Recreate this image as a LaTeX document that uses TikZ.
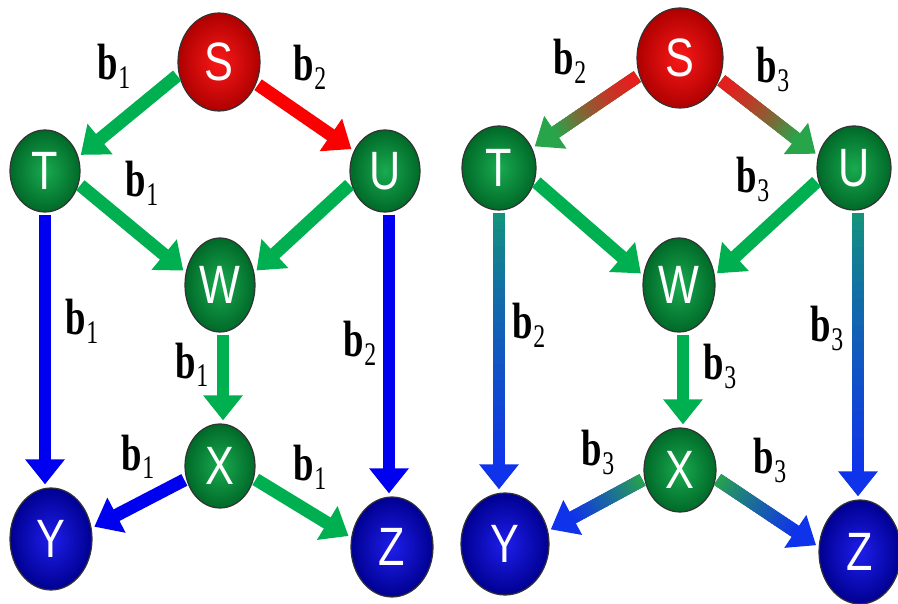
\documentclass[tikz,border=0pt]{standalone}
\usepackage{fontspec}
\usepackage{graphicx}
\setmainfont{Liberation Serif}
\newfontfamily\ballfont{Liberation Sans}
\usetikzlibrary{shapes.geometric,arrows.meta,calc}
\definecolor{agreen}{RGB}{0,176,80}
\definecolor{ared}{RGB}{250,0,0}
\definecolor{ablue}{RGB}{0,0,240}
\definecolor{gred}{RGB}{230,30,30}
\definecolor{ggreen}{RGB}{40,165,75}
\definecolor{gteal}{RGB}{20,150,120}
\definecolor{gblue}{RGB}{15,50,235}
\definecolor{ngin}{RGB}{25,170,80}
\definecolor{ngout}{RGB}{0,105,40}
\definecolor{nrin}{RGB}{250,25,25}
\definecolor{nrout}{RGB}{175,0,0}
\definecolor{nbin}{RGB}{30,30,235}
\definecolor{nbout}{RGB}{0,0,145}
\tikzset{
  ball/.style={ellipse, inner sep=0pt, draw=black!80, line width=1.2pt, text=white,
    font=\ballfont\fontsize{54}{54}\selectfont},
  gnode/.style={ball, inner color=ngin, outer color=ngout},
  rnode/.style={ball, inner color=nrin, outer color=nrout},
  bnode/.style={ball, inner color=nbin, outer color=nbout},
  arr/.style={line width=13pt, -{Triangle[length=25pt,width=38pt]}, shorten <=2pt, shorten >=3pt},
  vline/.style={arr, line width=12pt},
  lab/.style={anchor=base west, inner sep=0pt, text=black}
}
\newcommand\ballt[1]{\scalebox{0.8}[1]{#1}}
\newcommand\blab[1]{\scalebox{0.72}[1]{\fontsize{51}{51}\selectfont\bfseries b\kern1pt\raisebox{-9pt}{\fontsize{33}{33}\selectfont\mdseries #1}}}
% #1 width, #2 from, #3 to, #4 start colour, #5 end colour, #6 exponent
\newcommand\gradarrow[6][13pt]{%
  \coordinate (ga1) at ($#2!2pt!#3$);
  \coordinate (gb1) at ($#3!3pt!#2$);
  \coordinate (gse) at ($(gb1)!25pt!(ga1)$);
  \draw[line width=#1, -{Triangle[length=25pt,width=38pt]}, color=#5] (ga1) -- (gb1);
  \foreach \i in {0,...,29}{
    \pgfmathsetmacro\ta{\i/30}
    \pgfmathsetmacro\tb{min(1,(\i+1.5)/30)}
    \pgfmathtruncatemacro\pc{100*((\i+0.5)/30)^#6}
    \draw[line width=#1, color=#5!\pc!#4] ($(ga1)!\ta!(gse)$) -- ($(ga1)!\tb!(gse)$);
  }%
}
\begin{document}
\begin{tikzpicture}[x=1pt,y=-1pt]
\useasboundingbox (0,0) rectangle (898,604);
\fill[white] (0,0) rectangle (898,604);
% ---------- left panel ----------
\node[rnode, minimum width=82pt, minimum height=98pt] (S) at (219,62) {\ballt{S}};
\node[gnode, minimum width=70pt, minimum height=82pt] (T) at (45,171) {\ballt{T}};
\node[gnode, minimum width=70pt, minimum height=82pt] (U) at (385,171) {\ballt{U}};
\node[gnode, minimum width=70pt, minimum height=94pt] (W) at (220,285) {\ballt{W}};
\node[gnode, minimum width=70pt, minimum height=84pt] (X) at (220,466) {\ballt{X}};
\node[bnode, minimum width=82pt, minimum height=102pt] (Y) at (51,539) {\ballt{Y}};
\node[bnode, minimum width=82pt, minimum height=100pt] (Z) at (392,547) {\ballt{Z}};

\draw[arr, agreen] (S.197) -- (T.23);
\draw[arr, ared] (S.330) -- (U.147);
\draw[arr, agreen] (T.339) -- (W.160);
\draw[arr, agreen] (U.200) -- (W.20);
\draw[vline, ablue] (T.south) -- (T.south |- Y.north);
\draw[vline, ablue] ([xshift=4pt]U.south) -- ([xshift=4pt]U.south |- Z.north);
\draw[vline, agreen] ([xshift=3pt]W.south) -- ([xshift=3pt]W.south |- X.north);
\draw[arr, ablue] (X.201) -- (Y.15);
\draw[arr, agreen] (X.340) -- (Z.167);

\node[lab] (l1) at (97,80) {\blab{1}};
\node[lab] (l2) at (293,81) {\blab{2}};
\node[lab] (l3) at (125,197) {\blab{1}};
\node[lab] (l4) at (65,335) {\blab{1}};
\node[lab] (l5) at (175,378) {\blab{1}};
\node[lab] (l6) at (343,357) {\blab{2}};
\node[lab] (l7) at (121,470) {\blab{1}};
\node[lab] (l8) at (293,480) {\blab{1}};

% ---------- right panel ----------
\node[rnode, minimum width=86pt, minimum height=100pt] (S2) at (680,58) {\ballt{S}};
\node[gnode, minimum width=74pt, minimum height=84pt] (T2) at (499,168) {\ballt{T}};
\node[gnode, minimum width=74pt, minimum height=84pt] (U2) at (854,168) {\ballt{U}};
\node[gnode, minimum width=72pt, minimum height=94pt] (W2) at (679,285) {\ballt{W}};
\node[gnode, minimum width=72pt, minimum height=84pt] (X2) at (680,470) {\ballt{X}};
\node[bnode, minimum width=88pt, minimum height=102pt] (Y2) at (505,544) {\ballt{Y}};
\node[bnode, minimum width=82pt, minimum height=104pt] (Z2) at (860,552) {\ballt{Z}};

\gradarrow{(S2.203)}{(T2.31)}{gred}{ggreen}{1.5}
\gradarrow{(S2.332)}{(U2.161)}{gred}{ggreen}{1.5}
\draw[arr, agreen] (T2.340) -- (W2.165);
\draw[arr, agreen] (U2.199) -- (W2.15);
\gradarrow[12pt]{(T2.south)}{(T2.south |- Y2.north)}{gteal}{gblue}{0.8}
\gradarrow[12pt]{([xshift=4pt]U2.south)}{([xshift=4pt]U2.south |- Z2.north)}{gteal}{gblue}{0.8}
\draw[vline, agreen] ([xshift=4pt]W2.south) -- ([xshift=4pt]W2.south |- X2.north);
\gradarrow{(X2.194)}{(Y2.17)}{ggreen}{gblue}{0.9}
\gradarrow{(X2.347)}{(Z2.173)}{ggreen}{gblue}{0.9}

\node[lab] (r1) at (553,75) {\blab{2}};
\node[lab] (r2) at (756,83) {\blab{3}};
\node[lab] (r3) at (736,193) {\blab{3}};
\node[lab] (r4) at (512,339) {\blab{2}};
\node[lab] (r5) at (703,380) {\blab{3}};
\node[lab] (r6) at (810,342) {\blab{3}};
\node[lab] (r7) at (581,465) {\blab{3}};
\node[lab] (r8) at (753,473) {\blab{3}};
\end{tikzpicture}
\end{document}
